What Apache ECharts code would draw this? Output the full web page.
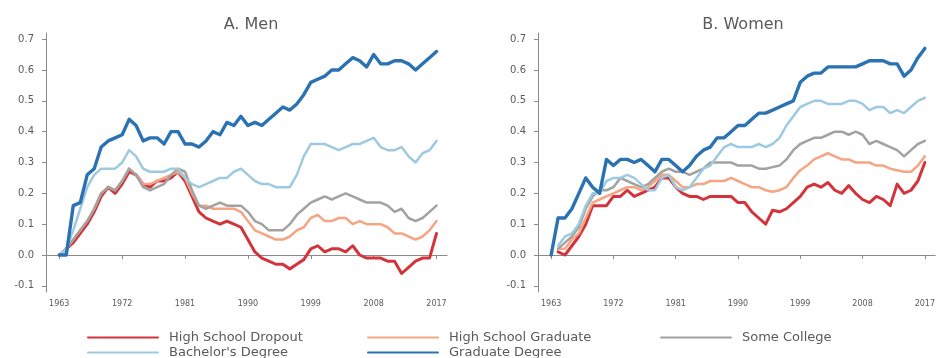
<!DOCTYPE html>
<html>
<head>
<meta charset="utf-8">
<script src="https://cdn.jsdelivr.net/npm/echarts@6/dist/echarts.min.js"></script>
<style>
html,body{margin:0;padding:0;background:#fff;}
#chart{width:938px;height:358px;}
</style>
</head>
<body>
<div id="chart"></div>
<script>
const years = [1963,1964,1965,1966,1967,1968,1969,1970,1971,1972,
  1973,1974,1975,1976,1977,1978,1979,1980,1981,1982,
  1983,1984,1985,1986,1987,1988,1989,1990,1991,1992,
  1993,1994,1995,1996,1997,1998,1999,2000,2001,2002,
  2003,2004,2005,2006,2007,2008,2009,2010,2011,2012,
  2013,2014,2015,2016,2017];
const xTickLabels = [1963,1972,1981,1990,1999,2008,2017];
const yTickLabels = [-0.1,0.0,0.1,0.2,0.3,0.4,0.5,0.6,0.7];
const seriesNames = ['High School Dropout','High School Graduate','Some College',"Bachelor's Degree",'Graduate Degree'];
const panelTitles = ['A. Men','B. Women'];

// Men
const menDropout = [0,0.02,0.04,0.07,0.10,0.14,0.19,0.22,0.20,0.23,
  0.27,0.26,0.23,0.22,0.24,0.24,0.25,0.27,0.24,0.19,
  0.14,0.12,0.11,0.10,0.11,0.10,0.09,0.05,0.01,-0.01,
  -0.02,-0.03,-0.03,-0.045,-0.03,-0.015,0.02,0.03,0.01,0.02,
  0.02,0.01,0.03,0.00,-0.01,-0.01,-0.01,-0.02,-0.02,-0.06,
  -0.04,-0.02,-0.01,-0.01,0.07];
const menHSGrad = [0,0.02,0.05,0.08,0.11,0.15,0.20,0.22,0.21,0.24,
  0.28,0.26,0.23,0.23,0.24,0.25,0.26,0.27,0.25,0.20,
  0.16,0.16,0.15,0.15,0.15,0.15,0.14,0.11,0.08,0.07,
  0.06,0.05,0.05,0.06,0.08,0.09,0.12,0.13,0.11,0.11,
  0.12,0.12,0.10,0.11,0.10,0.10,0.10,0.09,0.07,0.07,
  0.06,0.05,0.06,0.08,0.11];
const menSomeCollege = [0,0.02,0.05,0.08,0.11,0.15,0.20,0.22,0.21,0.24,
  0.28,0.26,0.22,0.21,0.22,0.23,0.26,0.28,0.27,0.21,
  0.16,0.15,0.16,0.17,0.16,0.16,0.16,0.14,0.11,0.10,
  0.08,0.08,0.08,0.10,0.13,0.15,0.17,0.18,0.19,0.18,
  0.19,0.20,0.19,0.18,0.17,0.17,0.17,0.16,0.14,0.15,
  0.12,0.11,0.12,0.14,0.16];
const menBachelor = [0,0.02,0.08,0.15,0.22,0.26,0.28,0.28,0.28,0.30,
  0.34,0.32,0.28,0.27,0.27,0.27,0.28,0.28,0.25,0.23,
  0.22,0.23,0.24,0.25,0.25,0.27,0.28,0.26,0.24,0.23,
  0.23,0.22,0.22,0.22,0.26,0.32,0.36,0.36,0.36,0.35,
  0.34,0.35,0.36,0.36,0.37,0.38,0.35,0.34,0.34,0.35,
  0.32,0.30,0.33,0.34,0.37];
const menGraduate = [0,0.0,0.16,0.17,0.26,0.28,0.35,0.37,0.38,0.39,
  0.44,0.42,0.37,0.38,0.38,0.36,0.40,0.40,0.36,0.36,
  0.35,0.37,0.40,0.39,0.43,0.42,0.45,0.42,0.43,0.42,
  0.44,0.46,0.48,0.47,0.49,0.52,0.56,0.57,0.58,0.60,
  0.60,0.62,0.64,0.63,0.61,0.65,0.62,0.62,0.63,0.63,
  0.62,0.60,0.62,0.64,0.66];

// Women
const womenDropout = [null,0.01,0.00,0.03,0.06,0.10,0.16,0.16,0.16,0.19,
  0.19,0.21,0.19,0.20,0.21,0.22,0.25,0.25,0.22,0.20,
  0.19,0.19,0.18,0.19,0.19,0.19,0.19,0.17,0.17,0.14,
  0.12,0.10,0.145,0.14,0.15,0.17,0.19,0.22,0.23,0.22,
  0.235,0.21,0.20,0.225,0.20,0.18,0.17,0.19,0.18,0.16,
  0.23,0.20,0.21,0.24,0.30];
const womenHSGrad = [null,0.02,0.02,0.05,0.07,0.12,0.17,0.18,0.19,0.20,
  0.21,0.22,0.22,0.21,0.22,0.24,0.26,0.26,0.24,0.22,
  0.22,0.23,0.23,0.24,0.24,0.24,0.25,0.24,0.23,0.22,
  0.22,0.21,0.205,0.21,0.22,0.25,0.275,0.29,0.31,0.32,
  0.33,0.32,0.31,0.31,0.30,0.30,0.30,0.29,0.29,0.28,
  0.275,0.27,0.27,0.29,0.32];
const womenSomeCollege = [null,0.02,0.04,0.06,0.09,0.15,0.19,0.21,0.21,0.22,
  0.25,0.24,0.23,0.22,0.23,0.25,0.27,0.28,0.27,0.27,
  0.26,0.27,0.28,0.30,0.30,0.30,0.30,0.29,0.29,0.29,
  0.28,0.28,0.285,0.29,0.31,0.34,0.36,0.37,0.38,0.38,
  0.39,0.40,0.40,0.39,0.40,0.39,0.36,0.37,0.36,0.35,
  0.34,0.32,0.34,0.36,0.37];
const womenBachelor = [null,0.03,0.06,0.07,0.10,0.16,0.20,0.20,0.24,0.25,
  0.25,0.26,0.25,0.23,0.21,0.21,0.25,0.26,0.22,0.21,
  0.22,0.25,0.28,0.29,0.32,0.35,0.36,0.35,0.35,0.35,
  0.36,0.35,0.36,0.38,0.42,0.45,0.48,0.49,0.50,0.50,
  0.49,0.49,0.49,0.50,0.50,0.49,0.47,0.48,0.48,0.46,
  0.47,0.46,0.48,0.50,0.51];
const womenGraduate = [0,0.12,0.12,0.15,0.20,0.25,0.22,0.20,0.31,0.29,
  0.31,0.31,0.30,0.31,0.29,0.27,0.31,0.31,0.29,0.27,
  0.29,0.32,0.34,0.35,0.38,0.38,0.40,0.42,0.42,0.44,
  0.46,0.46,0.47,0.48,0.49,0.50,0.56,0.58,0.59,0.59,
  0.61,0.61,0.61,0.61,0.61,0.62,0.63,0.63,0.63,0.62,
  0.62,0.58,0.60,0.64,0.67];

const menValues = [menDropout, menHSGrad, menSomeCollege, menBachelor, menGraduate];
const womenValues = [womenDropout, womenHSGrad, womenSomeCollege, womenBachelor, womenGraduate];

const colors = ['#d3343c','#f4a582','#a2a2a2','#9ecae1','#2a72b2'];
const widths = [3, 2.5, 2.5, 2.5, 3.4];
const FONT = 'DejaVu Sans';
const textGray = '#5a5a5a';
const axisGray = '#8a8a8a';

const grids = [
  {left: 46, width: 401, top: 33, height: 259},
  {left: 538, width: 400, top: 33, height: 259}
];

function xAxisFor(i) {
  return {
    type: 'value', gridIndex: i, min: 1961.1, max: 2018.5,
    axisLine: {show: true, lineStyle: {color: axisGray, width: 1}},
    axisTick: {show: true, length: 4, lineStyle: {color: axisGray}, customValues: xTickLabels},
    axisLabel: {show: true, customValues: xTickLabels, margin: 8, fontSize: 8, color: textGray, fontFamily: FONT,
      formatter: v => String(v)},
    splitLine: {show: false}
  };
}
function yAxisFor(i) {
  return {
    type: 'value', gridIndex: i, min: -0.12, max: 0.72,
    axisLine: {show: true, lineStyle: {color: axisGray, width: 1}},
    axisTick: {show: true, length: 4, lineStyle: {color: axisGray}, customValues: yTickLabels},
    axisLabel: {show: true, customValues: yTickLabels, margin: 12, fontSize: 10, color: textGray, fontFamily: FONT,
      formatter: v => Number(v).toFixed(1)},
    splitLine: {show: false}
  };
}

const series = [];
[menValues, womenValues].forEach((vals, g) => {
  vals.forEach((arr, k) => {
    series.push({
      name: seriesNames[k], type: 'line', xAxisIndex: g, yAxisIndex: g,
      data: years.map((y, j) => [y, arr[j]]),
      symbol: 'none', showSymbol: false, smooth: false, connectNulls: false,
      lineStyle: {color: colors[k], width: widths[k], join: 'round', cap: 'round'},
      itemStyle: {color: colors[k]},
      z: 2 + k
    });
  });
});

function legendCol(left, names) {
  return {
    show: true, orient: 'vertical', left: left, top: 331, height: 60, padding: 0,
    itemWidth: 70, itemHeight: 12, itemGap: 2,
    data: names,
    selectedMode: false,
    itemStyle: {opacity: 0},
    textStyle: {fontSize: 13, color: textGray, fontFamily: FONT, lineHeight: 12, padding: [0, 0, 0, 6]}
  };
}

const option = {
  animation: false,
  backgroundColor: '#ffffff',
  color: colors,
  title: [
    {text: panelTitles[0], left: 246, top: 12, textAlign: 'center',
      textStyle: {fontSize: 16, fontWeight: 'normal', color: textGray, fontFamily: FONT}},
    {text: panelTitles[1], left: 738, top: 12, textAlign: 'center',
      textStyle: {fontSize: 16, fontWeight: 'normal', color: textGray, fontFamily: FONT}}
  ],
  grid: grids,
  xAxis: [xAxisFor(0), xAxisFor(1)],
  yAxis: [yAxisFor(0), yAxisFor(1)],
  legend: [
    legendCol(87, [seriesNames[0], seriesNames[3]]),
    legendCol(367, [seriesNames[1], seriesNames[4]]),
    legendCol(660, [seriesNames[2]])
  ],
  series: series
};

const chart = echarts.init(document.getElementById('chart'), null, {renderer: 'canvas'});
chart.setOption(option);
</script>
</body>
</html>
